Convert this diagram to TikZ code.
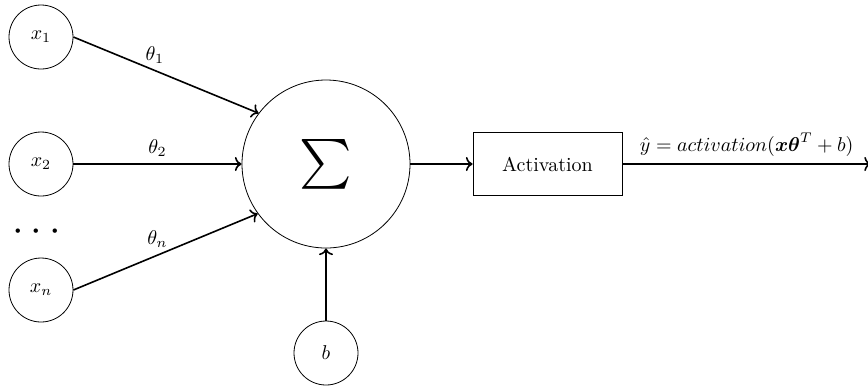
\documentclass[tikz,border=0pt]{standalone}
\usepackage{amsmath}
\usetikzlibrary{arrows.meta}
\begin{document}
\begin{tikzpicture}[x=0.5pt,y=-0.5pt,
  inp/.style={draw,circle,minimum size=32pt,inner sep=0pt},
  sumnode/.style={draw,circle,minimum size=84pt,inner sep=0pt},
  actbox/.style={draw,rectangle,minimum width=74.5pt,minimum height=31.5pt,inner sep=0pt},
  conn/.style={thick,->}]
\useasboundingbox (0,0) rectangle (868,388);
% inputs
\node[inp] (x1) at (41,37) {$x_1$};
\node[inp] (x2) at (41,164) {$x_2$};
\node[inp] (xn) at (41,290) {$x_n$};
\node (dots) at (40,232) {\huge$\cdots$};
% summation, bias and activation
\node[sumnode] (sum) at (326,164) {\Huge$\sum$};
\node[inp] (b) at (326,353) {$b$};
\node[actbox] (act) at (547.5,164) {Activation};
\coordinate (out) at (871,164);
% weighted connections
\draw[conn] (x1.east) -- node[pos=0.44,above] {$\theta_1$} (sum.143.5);
\draw[conn] (x2.east) -- node[pos=0.5,above] {$\theta_2$} (sum.west);
\draw[conn] (xn.east) -- node[pos=0.456,above] {$\theta_n$} (sum.216.5);
\draw[conn] (b.north) -- (sum.south);
\draw[conn] (sum.east) -- (act.west);
\draw[conn] (act.east) -- node[above] {$\hat{y} = activation(\boldsymbol{x}\boldsymbol{\theta}^T + b)$} (out);
\end{tikzpicture}
\end{document}
